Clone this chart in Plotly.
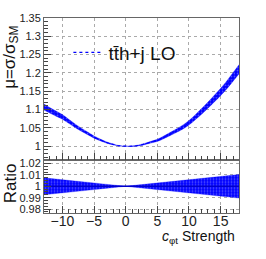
import plotly.graph_objects as go

# ---- data ----
c_vals = list(range(-13, 19))
mu_vals = [1.108, 1.098, 1.089, 1.080, 1.068, 1.056, 1.045, 1.035, 1.025, 1.017,
           1.010, 1.005, 1.001, 1.000, 1.000, 1.002, 1.006, 1.011, 1.016, 1.024,
           1.033, 1.042, 1.052, 1.064, 1.079, 1.095, 1.112, 1.130, 1.148, 1.168,
           1.190, 1.212]
ratio_err = [0.0075, 0.0070, 0.0064, 0.0058, 0.0052, 0.0046, 0.0041, 0.0035, 0.0029,
             0.0023, 0.0017, 0.0012, 0.0006, 0.0, 0.0006, 0.0012, 0.0017, 0.0023,
             0.0029, 0.0035, 0.0041, 0.0046, 0.0052, 0.0058, 0.0064, 0.0070, 0.0075,
             0.0081, 0.0087, 0.0093, 0.0099, 0.0104]
x_ticks = [-10, -5, 0, 5, 10, 15]
mu_ticks = [1.0, 1.05, 1.1, 1.15, 1.2, 1.25, 1.3, 1.35]
ratio_ticks = [0.98, 0.99, 1.0, 1.01, 1.02]

ratio_hi = [1 + e for e in ratio_err]
ratio_lo = [1 - e for e in ratio_err]
mu_hi = [m * r for m, r in zip(mu_vals, ratio_hi)]
mu_lo = [m * r for m, r in zip(mu_vals, ratio_lo)]

BLUE = "#0000ff"
pattern = dict(shape=".", bgcolor=BLUE, fgcolor="#a0a0ff", size=3, solidity=0.3)
FONT = "Liberation Sans, Arial, sans-serif"

fig = go.Figure()
# top panel band
fig.add_trace(go.Scatter(x=c_vals, y=mu_lo, mode="lines", line=dict(color=BLUE, width=0.3),
                         showlegend=False, xaxis="x2", yaxis="y", line_shape="spline"))
fig.add_trace(go.Scatter(x=c_vals, y=mu_hi, mode="lines", line=dict(color=BLUE, width=0.3),
                         fill="tonexty", fillcolor=BLUE, fillpattern=pattern,
                         showlegend=False, xaxis="x2", yaxis="y", line_shape="spline"))
fig.add_trace(go.Scatter(x=c_vals, y=mu_vals, mode="lines", name="tt\u0304h+j LO",
                         line=dict(color=BLUE, width=1.2, dash="dot"),
                         xaxis="x2", yaxis="y", line_shape="spline"))
# ratio panel band
fig.add_trace(go.Scatter(x=c_vals, y=ratio_lo, mode="lines", line=dict(color=BLUE, width=0.3),
                         showlegend=False, xaxis="x", yaxis="y2"))
fig.add_trace(go.Scatter(x=c_vals, y=ratio_hi, mode="lines", line=dict(color=BLUE, width=0.3),
                         fill="tonexty", fillcolor=BLUE, fillpattern=pattern,
                         showlegend=False, xaxis="x", yaxis="y2"))
fig.add_trace(go.Scatter(x=c_vals, y=[1.0] * len(c_vals), mode="lines",
                         line=dict(color="#0000cc", width=1.5),
                         showlegend=False, xaxis="x", yaxis="y2"))

axis_common = dict(showline=True, linecolor="#666666", linewidth=1, mirror=True,
                   ticks="inside", ticklen=7, tickcolor="#444444",
                   showgrid=True, gridcolor="#aaaaaa", griddash="dot", gridwidth=1,
                   zeroline=False)

fig.update_layout(
    width=266, height=259,
    margin=dict(l=44, r=27, t=16, b=46),
    paper_bgcolor="white", plot_bgcolor="white",
    font=dict(family=FONT, color="#222222"),
    xaxis=dict(domain=[0, 1], anchor="y2", range=[-12.9, 17.9], tickvals=x_ticks,
               tickfont=dict(size=14), ticklabelstandoff=-5,
               minor=dict(dtick=1, ticks="inside", ticklen=4,
                          tickcolor="#444444", showgrid=False),
               **axis_common),
    xaxis2=dict(domain=[0, 1], anchor="y", matches="x", range=[-12.9, 17.9],
                tickvals=x_ticks, showticklabels=False,
                minor=dict(dtick=1, ticks="inside", ticklen=4, tickcolor="#444444",
                           showgrid=False),
                **axis_common),
    yaxis=dict(domain=[0.274, 1], anchor="x2", range=[0.9635, 1.35], tickvals=mu_ticks,
               ticktext=["1", "1.05", "1.1", "1.15", "1.2", "1.25", "1.3", "1.35"],
               tickfont=dict(size=11),
               minor=dict(dtick=0.01, ticks="inside", ticklen=4, tickcolor="#444444",
                          showgrid=False),
               **axis_common),
    yaxis2=dict(domain=[0, 0.274], anchor="x", range=[0.9765, 1.0235], tickvals=ratio_ticks,
                ticktext=["0.98", "0.99", "1", "1.01", "1.02"],
                tickfont=dict(size=11),
                minor=dict(dtick=0.0025, ticks="inside", ticklen=4, tickcolor="#444444",
                           showgrid=False),
                **axis_common),
    legend=dict(x=0.125, y=0.92, xanchor="left", yanchor="top", bgcolor="rgba(0,0,0,0)",
                font=dict(size=19, family=FONT, color="#111111"), itemwidth=30,
                tracegroupgap=0),
    showlegend=True,
)

fig.add_annotation(text="\u03bc=\u03c3/\u03c3<sub>SM</sub>", textangle=-90, xref="paper", yref="paper",
                   x=-0.17, y=0.80, xanchor="center", yanchor="middle", showarrow=False,
                   font=dict(size=17, family=FONT, color="#111111"))
fig.add_annotation(text="Ratio", textangle=-90, xref="paper", yref="paper",
                   x=-0.17, y=0.152, xanchor="center", yanchor="middle", showarrow=False,
                   font=dict(size=17, family=FONT, color="#111111"))
fig.add_annotation(text="<i>c</i><sub>\u03c6t</sub> Strength", xref="paper", yref="paper",
                   x=0.99, y=-0.125, xanchor="right", yanchor="middle", showarrow=False,
                   font=dict(size=14, family=FONT, color="#111111"))

fig.write_html("out.html", config={"displayModeBar": False},
               post_script="document.body.style.margin='0';")
